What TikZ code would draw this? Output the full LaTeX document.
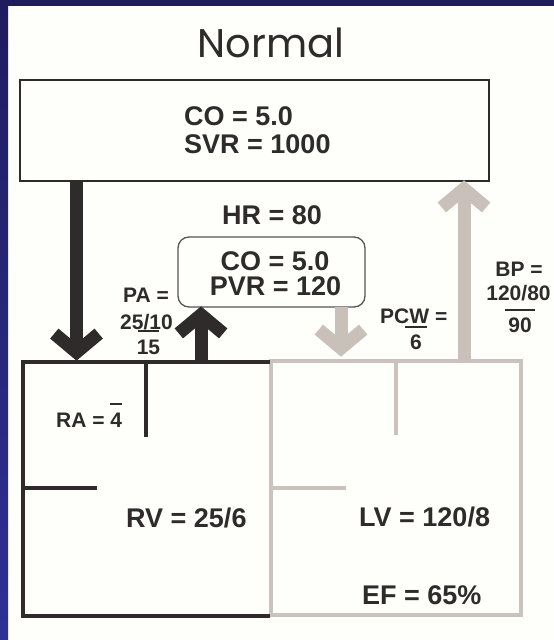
\documentclass[tikz,border=0pt]{standalone}
\usepackage{fontspec}
\setmainfont{Liberation Sans}
\newfontfamily\titlefont{Poppins}
\usetikzlibrary{calc}
\definecolor{ink}{HTML}{2E2B2A}
\definecolor{navytop}{HTML}{1F1D5E}
\definecolor{navybot}{HTML}{2D3196}
\definecolor{greyarrow}{HTML}{C9C0BA}
\definecolor{greywall}{HTML}{CBC2BD}
\definecolor{paper}{HTML}{FEFEFB}
\tikzset{
  bigtxt/.style={font=\fontsize{27}{30}\selectfont\bfseries, text=ink, inner sep=0pt},
  smalltxt/.style={font=\fontsize{21}{24}\selectfont\bfseries, text=ink, inner sep=0pt},
  darkarr/.style={draw=ink, line width=13pt},
  greyarr/.style={draw=greyarrow, line width=13pt},
  darkwall/.style={draw=ink, line width=4pt},
  greywallline/.style={draw=greywall, line width=4pt},
  meanbar/.style={draw=ink, line width=2pt},
}
\newcommand\chevdown[3]{%
  \draw[#1] (#2) -- ($(#3)+(0,-7.8)$);
  \draw[#1] ($(#3)+(-22.2,-26.4)$) -- ($(#3)+(0,-7.8)$) -- ($(#3)+(22.2,-26.4)$);}
\newcommand\chevup[3]{%
  \draw[#1] (#2) -- ($(#3)+(0,7.8)$);
  \draw[#1] ($(#3)+(-22.2,26.4)$) -- ($(#3)+(0,7.8)$) -- ($(#3)+(22.2,26.4)$);}
\begin{document}
\begin{tikzpicture}[x=1pt,y=-1pt]
\useasboundingbox (0,0) rectangle (554,640);
\fill[paper] (0,0) rectangle (554,640);
\fill[navytop] (0,0) rectangle (554,6);
\shade[top color=navytop,bottom color=navybot] (0,0) rectangle (8,640);

% title
\node[font=\titlefont\fontsize{40}{44}\selectfont, text=ink, anchor=base, inner sep=0pt] (title) at (271,57) {Normal};

% systemic box
\node[draw=ink, line width=2pt, minimum width=469pt, minimum height=101pt, inner sep=0pt] (sys) at (254.5,130.5) {};
\node[bigtxt, anchor=base west] (sysco) at (184,125) {CO = 5.0};
\node[bigtxt, anchor=base west] (syssvr) at (184,153) {SVR = 1000};

% pulmonary box
\node[draw=ink!80, line width=1.3pt, rounded corners=11pt, minimum width=187pt, minimum height=70pt, inner sep=0pt] (pulm) at (271.5,272) {};
\node[bigtxt, anchor=base west] (hr) at (222,224) {HR = 80};
\node[bigtxt, anchor=base] (pulmco) at (275,270) {CO = 5.0};
\node[bigtxt, anchor=base] (pvr) at (275.5,295) {PVR = 120};

% heart
\draw[greywallline] (271,361) rectangle (521,615);
\draw[greywallline] (396,361) -- (396,435);
\draw[greywallline] (271,488) -- (346,488);
\draw[darkwall] (270,362) -- (23,362) -- (23,616) -- (270,616);
\draw[darkwall] (146,362) -- (146,437);
\draw[darkwall] (23,488) -- (97,488);

\coordinate (ivctop) at (76.5,181);
\coordinate (ivctip) at (76.5,360);
\coordinate (pabase) at (201,362);
\coordinate (patip) at (201,307);
\coordinate (pvtop) at (341,307);
\coordinate (pvtip) at (341,356);
\coordinate (aobase) at (464,361);
\coordinate (aotip) at (464,181);

% arrows
\chevdown{darkarr}{ivctop}{ivctip}
\chevup{darkarr}{pabase}{patip}
\chevdown{greyarr}{pvtop}{pvtip}
\chevup{greyarr}{aobase}{aotip}

% labels
\node[smalltxt, anchor=base west] (pa) at (123,302) {PA =};
\node[smalltxt, anchor=base west] (pasd) at (120,329) {25/10};
\node[smalltxt, anchor=base] (pam) at (148.5,354) {15};
\draw[meanbar] ($(pam.north)+(-10.5,-8)$) -- ($(pam.north)+(10.5,-8)$);

\node[smalltxt, anchor=base west] (pcw) at (380,323) {PCW =};
\node[smalltxt, anchor=base] (pcwm) at (416,349) {6};
\draw[meanbar] ($(pcwm.north)+(-11,-7)$) -- ($(pcwm.north)+(11,-7)$);

\node[smalltxt, anchor=base] (bp) at (519,276) {BP =};
\node[smalltxt, anchor=base] (bpsd) at (518.5,300) {120/80};
\node[smalltxt, anchor=base] (bpm) at (520,332) {90};
\draw[meanbar] ($(bpm.north)+(-15,-7)$) -- ($(bpm.north)+(15,-7)$);

\node[smalltxt, anchor=base west] (ra) at (56,427) {RA = 4};
\draw[meanbar] ($(ra.north east)+(-12,-8)$) -- ($(ra.north east)+(0,-8)$);

\node[bigtxt, anchor=base west] (rv) at (126,527) {RV = 25/6};
\node[bigtxt, anchor=base west] (lv) at (359,526) {LV = 120/8};
\node[bigtxt, anchor=base west] (ef) at (362,604) {EF = 65\%};
\end{tikzpicture}
\end{document}
